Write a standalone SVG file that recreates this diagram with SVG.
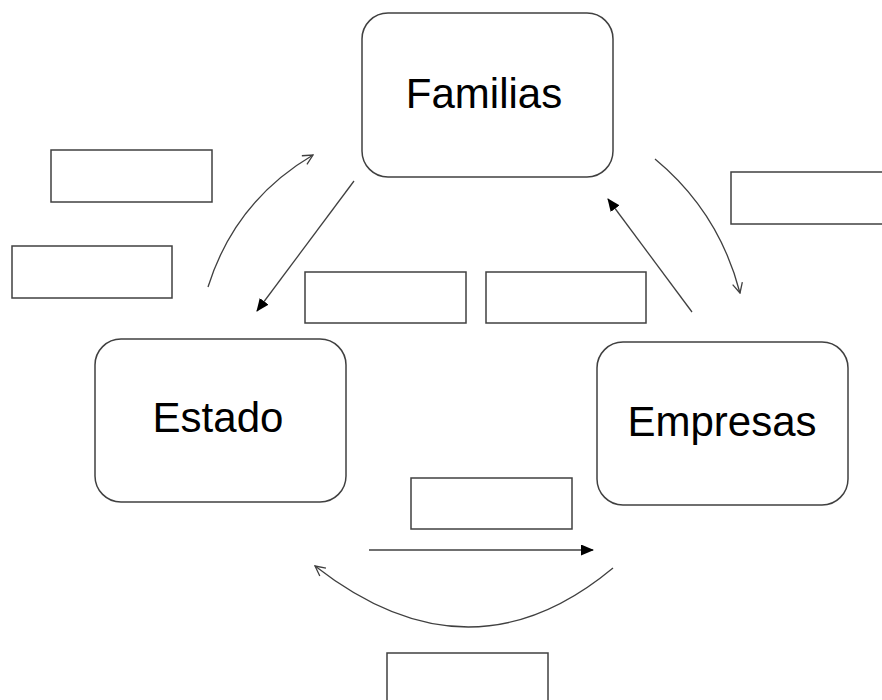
<svg xmlns="http://www.w3.org/2000/svg" width="882" height="700" viewBox="0 0 882 700">
<defs>
<style>
.node{fill:#fff;stroke:#404040;stroke-width:1.5}
.lbl{font-family:"Liberation Sans",Arial,sans-serif;font-size:42px;fill:#000;text-anchor:middle}
.box{fill:#fff;stroke:#404040;stroke-width:1.5}
.con{fill:none;stroke:#404040;stroke-width:1.3}
.open{marker-end:url(#openArrow)}
.solid{marker-end:url(#solidArrow)}
</style>
<marker id="openArrow" viewBox="0 0 12 12" refX="11" refY="6" markerWidth="12" markerHeight="12" markerUnits="userSpaceOnUse" orient="auto">
<polyline points="1,1 11,6 1,11" fill="none" stroke="#404040" stroke-width="1.3"/>
</marker>
<marker id="solidArrow" viewBox="0 0 13 11" refX="12" refY="5.5" markerWidth="13" markerHeight="11" markerUnits="userSpaceOnUse" orient="auto">
<polygon points="0,0 13,5.5 0,11" fill="#000"/>
</marker>
</defs>
<rect width="882" height="700" fill="#fff"/>
<g id="familias"><rect class="node" x="362" y="13" width="251" height="164" rx="26"/><text class="lbl" x="484" y="108">Familias</text></g>
<g id="estado"><rect class="node" x="95" y="339" width="251" height="163" rx="26"/><text class="lbl" x="218" y="432">Estado</text></g>
<g id="empresas"><rect class="node" x="597" y="342" width="251" height="163" rx="26"/><text class="lbl" x="722" y="436">Empresas</text></g>
<g id="label-boxes">
<rect class="box" x="51" y="150" width="161" height="52"/>
<rect class="box" x="12" y="246" width="160" height="52"/>
<rect class="box" x="731" y="172" width="152" height="52"/>
<rect class="box" x="305" y="272" width="161" height="51"/>
<rect class="box" x="486" y="272" width="160" height="51"/>
<rect class="box" x="411" y="478" width="161" height="51"/>
<rect class="box" x="387" y="653" width="161" height="52"/>
</g>
<g id="connectors">
<path class="con open" d="M208,287 Q235,201 313,155"/>
<path class="con solid" d="M354,181 L257,311"/>
<path class="con open" d="M655,159 Q719,212 740,293"/>
<path class="con solid" d="M692,312 L608,199"/>
<path class="con solid" d="M369,550 L593,550"/>
<path class="con open" d="M613,568 Q470,687 315,566"/>
</g>
</svg>
